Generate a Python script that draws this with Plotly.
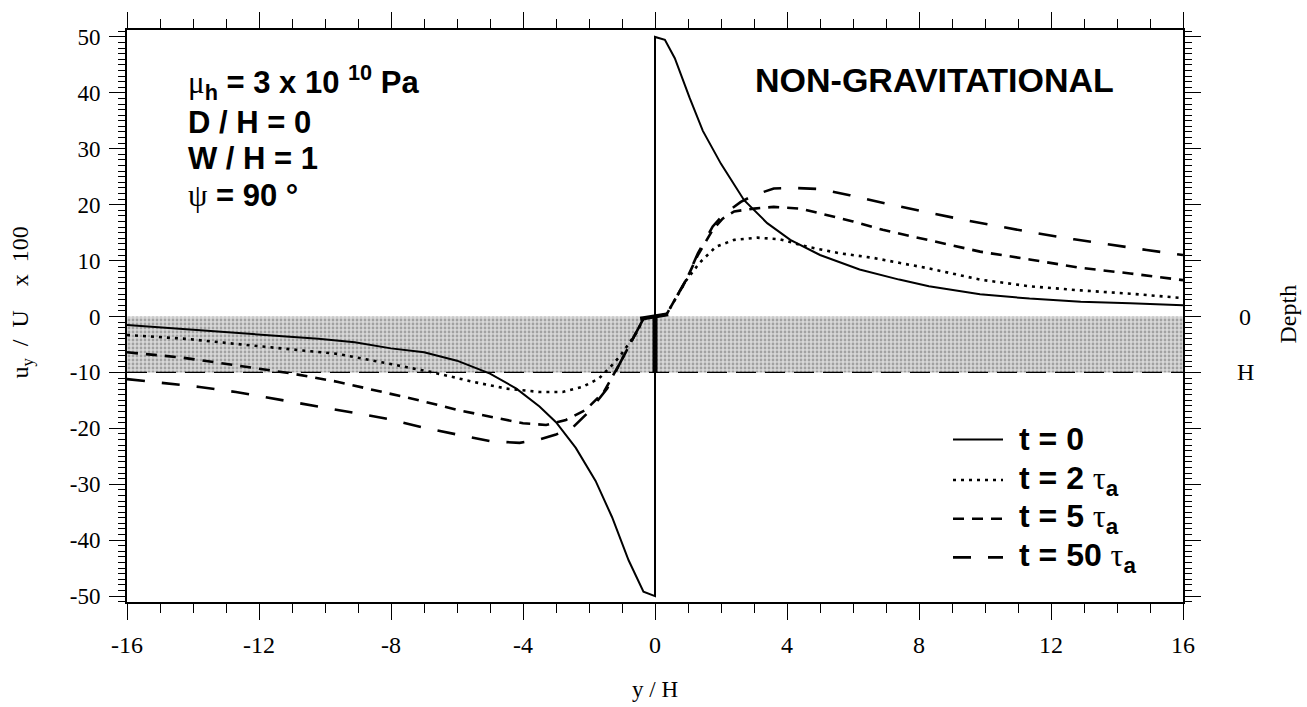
import plotly.graph_objects as go

# ---------------- data ----------------
x_t0 = [-16, -14.2, -12.2, -10.2, -9.1, -8.0, -7.0, -6.0, -5.0, -4.2, -3.5, -3.0, -2.4, -1.8,
        -1.3, -0.8, -0.35, 0, 0, 0.3, 0.6, 1.05, 1.45, 2.0, 2.7, 3.4, 4.1, 5.0, 6.2, 7.4, 8.3,
        9.85, 11.35, 12.9, 14.4, 16]
y_t0 = [-1.5, -2.25, -3.1, -4.0, -4.6, -5.7, -6.4, -7.9, -10.2, -12.9, -16.1, -18.9, -23.5, -29.4,
        -35.9, -43.6, -49.2, -50, 50, 49.5, 46.2, 39.1, 33.2, 27.3, 20.8, 16.7, 13.7, 11.0, 8.4, 6.6, 5.4,
        4.0, 3.2, 2.66, 2.36, 2.0]

x_t2 = [-16, -14.2, -12.7, -11.2, -9.6, -8.1, -6.8, -5.5, -4.5, -3.5, -2.8, -2.2, -1.7, -1.35,
        -1.05, -0.55, -0.35, 0.35, 0.55, 0.95, 1.35, 1.85, 2.4, 3.1, 3.8, 4.6, 5.6, 6.6, 7.4, 8.3,
        9.85, 11.35, 12.9, 14.4, 16]
y_t2 = [-3.3, -4.0, -4.9, -5.8, -6.7, -8.4, -9.9, -11.7, -12.9, -13.5, -13.5, -12.6, -11.1, -9.0,
        -7.0, -2.8, -0.4, 0.4, 2.5, 6.5, 9.6, 12.5, 13.7, 14.1, 13.8, 12.5, 11.3, 10.5, 9.6, 8.6,
        6.6, 5.4, 4.67, 4.08, 3.3]

x_t5 = [-16, -14.4, -13.2, -12.0, -11.0, -9.6, -8.0, -7.0, -6.0, -5.0, -4.0, -3.3, -2.7, -2.1,
        -1.55, -1.05, -0.55, -0.35, 0.35, 0.55, 0.95, 1.3, 1.75, 2.05, 2.4, 3.0, 3.6, 4.4, 5.2,
        6.0, 6.9, 8.3, 9.85, 11.35, 12.9, 14.4, 16]
y_t5 = [-6.4, -7.3, -8.3, -9.3, -10.2, -11.7, -13.8, -15.2, -16.7, -17.9, -19.1, -19.4, -18.5, -16.7,
        -13.5, -8.2, -2.8, -0.4, 0.4, 2.5, 6.6, 11.0, 15.5, 17.5, 18.8, 19.3, 19.6, 19.3, 18.1,
        17.0, 15.5, 13.7, 11.6, 10.2, 8.7, 7.7, 6.5]

x_t50 = [-16, -13.8, -12.7, -11.55, -10.45, -9.35, -8.1, -7.0, -6.0, -5.0, -4.1, -3.5, -3.0, -2.5,
         -2.0, -1.45, -1.05, -0.55, -0.35, 0.35, 0.55, 0.95, 1.3, 1.75, 2.05, 2.6, 3.0, 3.6, 4.2,
         5.0, 5.9, 7.0, 8.2, 9.35, 10.45, 11.55, 12.7, 13.8, 14.9, 16]
y_t50 = [-11.2, -12.6, -13.5, -14.7, -15.8, -16.9, -18.3, -19.9, -21.1, -22.3, -22.6, -22.0, -21.1, -19.9,
         -17.0, -12.9, -8.2, -2.8, -0.4, 0.4, 2.5, 6.6, 11.3, 16.1, 18.1, 20.5, 21.7, 22.9, 23.0,
         22.8, 21.7, 20.2, 18.7, 17.3, 16.1, 14.9, 13.8, 12.8, 11.9, 11.0]

# layer (depth 0 .. H) band and fault
band_x = [-16, 16]
band_top = 0
band_bottom = -10
fault_x = [0, 0]
fault_y = [0, -10]
fault_top_x = [-0.45, 0.4]
fault_top_y = [-0.4, 0.4]

x_ticks = [-16, -12, -8, -4, 0, 4, 8, 12, 16]
y_ticks = [-50, -40, -30, -20, -10, 0, 10, 20, 30, 40, 50]

legend_labels = ["t = 0", "t = 2 τ<sub>a</sub>", "t = 5 τ<sub>a</sub>", "t = 50 τ<sub>a</sub>"]
series_x = [x_t0, x_t2, x_t5, x_t50]
series_y = [y_t0, y_t2, y_t5, y_t50]
dashes = ["solid", "3px,5px", "11px,8px", "18px,17px"]
widths = [2, 2.6, 2.6, 2.6]

SANS = "Liberation Sans"
SERIF = "Liberation Serif"
NB = "\u00a0"

fig = go.Figure()

# stippled gray band
fig.add_trace(go.Scatter(
    x=[band_x[0], band_x[1], band_x[1], band_x[0], band_x[0]],
    y=[band_top, band_top, band_bottom, band_bottom, band_top],
    mode="lines", fill="toself", line=dict(width=0),
    fillpattern=dict(shape=".", bgcolor="#d8d8d8", fgcolor="#6a6a6a", size=4, solidity=0.38),
    hoverinfo="skip", showlegend=False))

# dashed depth H line
fig.add_trace(go.Scatter(x=band_x, y=[band_bottom, band_bottom], mode="lines",
                         line=dict(color="black", width=1.3, dash="20px,9px"),
                         hoverinfo="skip", showlegend=False))

for xs, ys, d, w, name in zip(series_x, series_y, dashes, widths, legend_labels):
    fig.add_trace(go.Scatter(x=xs, y=ys, mode="lines", name=name,
                             line=dict(color="black", width=w, dash=d),
                             showlegend=False))

# fault
fig.add_trace(go.Scatter(x=fault_x, y=fault_y, mode="lines",
                         line=dict(color="black", width=5), showlegend=False, hoverinfo="skip"))
fig.add_trace(go.Scatter(x=fault_top_x, y=fault_top_y, mode="lines",
                         line=dict(color="black", width=4), showlegend=False, hoverinfo="skip"))

axis_common = dict(showgrid=False, zeroline=False, showline=True, linecolor="black", linewidth=2,
                   mirror="ticks", ticks="outside", ticklen=16, tickwidth=1.2, tickcolor="black")

fig.update_xaxes(range=[-16, 16], tickvals=x_ticks, ticktext=[str(v) for v in x_ticks],
                 tickfont=dict(family=SERIF, size=24, color="black"),
                 minor=dict(ticks="outside", dtick=1, ticklen=9, tickwidth=1, tickcolor="black"),
                 ticklabelstandoff=4, **axis_common)
fig.update_yaxes(range=[-51.06, 51.24], tickvals=y_ticks, ticktext=[str(v) for v in y_ticks],
                 tickfont=dict(family=SERIF, size=23, color="black"),
                 minor=dict(ticks="outside", dtick=1, ticklen=7, tickwidth=1, tickcolor="black"),
                 ticklabelstandoff=4, **axis_common)

PL, PR, PT, PB = 127, 124, 25, 105
W, H = 1307, 707
pw, ph = W - PL - PR, H - PT - PB


def px(xp):
    return (xp - PL) / pw


def py(yp):
    return (H - PB - yp) / ph


ann = []
# axis titles
ann.append(dict(text="y" + NB + "/" + NB + "H", x=px(655), y=py(690), xref="paper", yref="paper",
                showarrow=False, xanchor="center", yanchor="middle",
                font=dict(family=SERIF, size=23, color="black")))
ytitle = "u<sub>y</sub>" + NB * 2 + "/" + NB * 2 + "U" + NB * 4 + "x" + NB * 2 + "100"
ann.append(dict(text=ytitle, x=px(22), y=py(300), xref="paper", yref="paper",
                xanchor="center", yanchor="middle",
                showarrow=False, textangle=-90, font=dict(family=SERIF, size=24, color="black")))
# right depth labels
ann.append(dict(text="0", x=px(1245), y=band_top, xref="paper", yref="y", showarrow=False,
                xanchor="center", yanchor="middle",
                font=dict(family=SERIF, size=24, color="black")))
ann.append(dict(text="H", x=px(1245), y=band_bottom, xref="paper", yref="y", showarrow=False,
                xanchor="center", yanchor="middle",
                font=dict(family=SERIF, size=24, color="black")))
ann.append(dict(text="Depth", x=px(1288), y=py(312), xref="paper", yref="paper", showarrow=False,
                xanchor="center", yanchor="middle",
                textangle=-90, font=dict(family=SERIF, size=24, color="black")))

GREEK = "<span style=\"font-family:'Liberation Serif';font-weight:normal\">%s</span>"

# parameter block
block = [
    (GREEK % "μ") + "<sub>h</sub> = 3 x 10 <sup>10</sup> Pa",
    "D / H = 0",
    "W / H = 1",
    (GREEK % "ψ") + " = 90 °",
]
block_y = [78, 118, 155, 192]
for t, yy in zip(block, block_y):
    ann.append(dict(text="<b>%s</b>" % t, x=px(186), y=py(yy), xref="paper", yref="paper",
                    xanchor="left", yanchor="middle", showarrow=False,
                    font=dict(family=SANS, size=31, color="black")))

ann.append(dict(text="<b>NON-GRAVITATIONAL</b>", x=px(753), y=py(75), xref="paper", yref="paper",
                xanchor="left", yanchor="middle", showarrow=False,
                font=dict(family=SANS, size=34, color="black")))

# custom legend
shapes = []
leg_y = [438, 479, 518, 557]
for lab, d, w, yy in zip(legend_labels, dashes, widths, leg_y):
    shapes.append(dict(type="line", xref="paper", yref="paper", x0=px(953), x1=px(1003),
                       y0=py(yy), y1=py(yy), line=dict(color="black", width=w, dash=d)))
    lab2 = lab.replace("τ", GREEK % "τ")
    ann.append(dict(text="<b>%s</b>" % lab2, x=px(1017), y=py(yy), xref="paper", yref="paper",
                    xanchor="left", yanchor="middle", showarrow=False,
                    font=dict(family=SANS, size=32, color="black")))

fig.update_layout(width=W, height=H, margin=dict(l=PL, r=PR, t=PT, b=PB),
                  plot_bgcolor="white", paper_bgcolor="white", showlegend=False,
                  font=dict(family=SERIF, color="black"),
                  annotations=ann, shapes=shapes)

fig.write_html("out.html", config={"displayModeBar": False},
               post_script="document.body.style.margin='0px';")
